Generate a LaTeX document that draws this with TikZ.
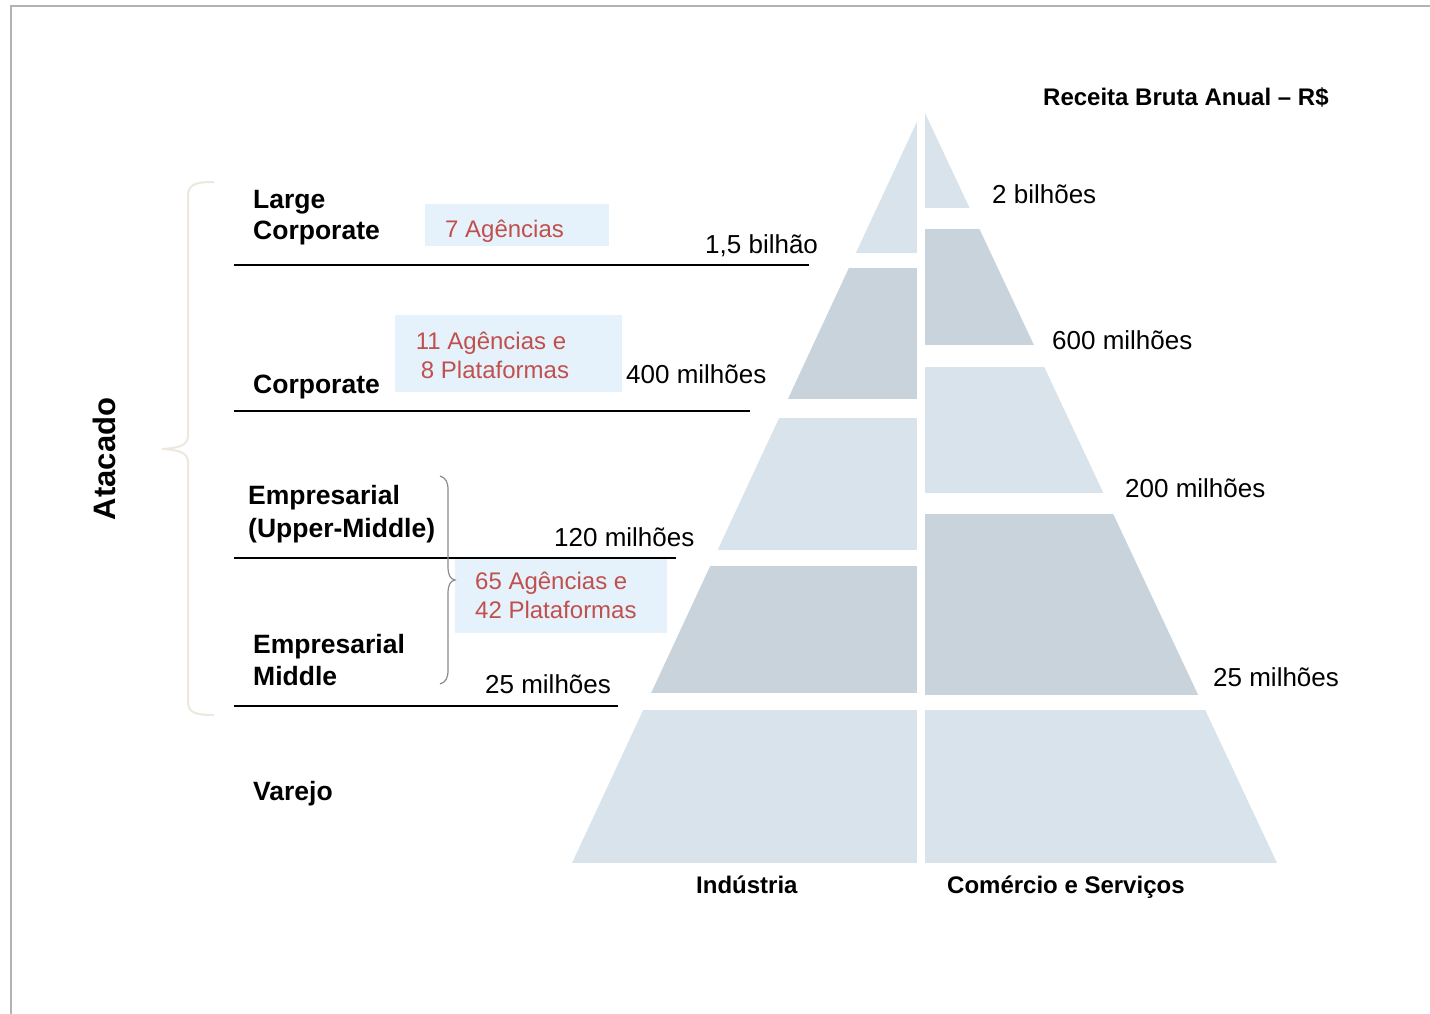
\documentclass[tikz,border=0pt]{standalone}
\usepackage{fontspec}
\setmainfont{Liberation Sans}
\definecolor{redtxt}{HTML}{C0504D}
\definecolor{boxblue}{HTML}{E6F2FB}
\definecolor{pylight}{HTML}{D8E3EB}
\definecolor{pydark}{HTML}{C8D3DC}
\definecolor{framegray}{HTML}{B3B3B3}
\definecolor{bracebeige}{HTML}{ECE8DC}
\begin{document}
\begin{tikzpicture}[x=1pt,y=-1pt,
  numtxt/.style={anchor=base west, inner sep=0pt, font=\fontsize{26}{31}\selectfont},
  segtxt/.style={anchor=base west, inner sep=0pt, align=left, font=\fontsize{26.5}{32}\selectfont\bfseries},
  redtext/.style={inner sep=0pt, text=redtxt, font=\fontsize{24}{29}\selectfont},
  infobox/.style={fill=boxblue, draw=none},
  sepline/.style={line width=2pt, black},
  hdr/.style={anchor=base west, inner sep=0pt, font=\fontsize{24}{29}\selectfont\bfseries}]
\useasboundingbox (0,0) rectangle (1430,1014);
% frame
\draw[framegray, line width=2pt] (11,1014) -- (11,6) -- (1430,6);

% pyramid
\begin{scope}
\clip (921,113) -- (572,863) -- (1277,863) -- (925,113) -- cycle;
\fill[pylight] (560,113) rectangle (917,253);
\fill[pydark]  (560,268) rectangle (917,399);
\fill[pylight] (560,418) rectangle (917,550);
\fill[pydark]  (560,566) rectangle (917,693);
\fill[pylight] (560,710) rectangle (917,863);
\fill[pylight] (925,113) rectangle (1290,208);
\fill[pydark]  (925,229) rectangle (1290,345);
\fill[pylight] (925,367) rectangle (1290,493);
\fill[pydark]  (925,514) rectangle (1290,695);
\fill[pylight] (925,710) rectangle (1290,863);
\end{scope}

% info boxes
\fill[infobox] (425,204) rectangle (609,246);
\fill[infobox] (395,315) rectangle (622,392);
\fill[infobox] (455,558) rectangle (667,633);

% separator lines
\coordinate (l1a) at (234,265); \coordinate (l1b) at (809,265);
\coordinate (l2a) at (234,411); \coordinate (l2b) at (750,411);
\coordinate (l3a) at (234,558); \coordinate (l3b) at (676,558);
\coordinate (l4a) at (234,706); \coordinate (l4b) at (618,706);
\draw[sepline] (l1a) -- (l1b);
\draw[sepline] (l2a) -- (l2b);
\draw[sepline] (l3a) -- (l3b);
\draw[sepline] (l4a) -- (l4b);

% big brace
\draw[bracebeige, line width=2pt] (214,182) .. controls (196,182) and (188,184) .. (188,196)
  -- (188,436) .. controls (188,445) and (180,448) .. (162,449)
  .. controls (180,450) and (188,453) .. (188,462)
  -- (188,702) .. controls (188,713) and (196,715) .. (214,715);
% small brace
\draw[gray!90, line width=1.2pt] (440,476) .. controls (446,478) and (448,482) .. (448,490)
  -- (448,566) .. controls (448,575) and (450,579) .. (455,580)
  .. controls (450,581) and (448,585) .. (448,594)
  -- (448,670) .. controls (448,678) and (446,682) .. (440,684);

% headers
\node[hdr] (receita) at (1043,106) {Receita Bruta Anual – R\$};
\node[rotate=90, inner sep=0pt, font=\fontsize{31}{36}\selectfont\bfseries] (atacado) at (104,459) {Atacado};

% segment labels
\node[segtxt] (lc1) at (253,208) {Large};
\node[segtxt] (lc2) at (253,239) {Corporate};
\node[segtxt] (corp) at (253,393) {Corporate};
\node[segtxt] (emp1) at (248,504) {Empresarial};
\node[segtxt] (emp2) at (248,537) {(Upper-Middle)};
\node[segtxt] (mid1) at (253,653) {Empresarial};
\node[segtxt] (mid2) at (253,685) {Middle};
\node[segtxt] (varejo) at (253,800) {Varejo};

% red texts
\node[redtext, anchor=base west] (ag7) at (445,237) {7 Agências};
\node[redtext, anchor=base] (ag11a) at (491,349) {11 Agências e};
\node[redtext, anchor=base] (ag11b) at (495,378) {8 Plataformas};
\node[redtext, anchor=base west] (ag65a) at (475,589) {65 Agências e};
\node[redtext, anchor=base west] (ag65b) at (475,618) {42 Plataformas};

% values left
\node[numtxt] (v15) at (705,253) {1,5 bilhão};
\node[numtxt] (v400) at (626,383) {400 milhões};
\node[numtxt] (v120) at (554,546) {120 milhões};
\node[numtxt] (v25l) at (485,693) {25 milhões};
% values right
\node[numtxt] (v2) at (992,203) {2 bilhões};
\node[numtxt] (v600) at (1052,349) {600 milhões};
\node[numtxt] (v200) at (1125,497) {200 milhões};
\node[numtxt] (v25r) at (1213,686) {25 milhões};

% bottom labels
\node[hdr] (ind) at (696,893) {Indústria};
\node[hdr] (com) at (947,893) {Comércio e Serviços};
\end{tikzpicture}
\end{document}
